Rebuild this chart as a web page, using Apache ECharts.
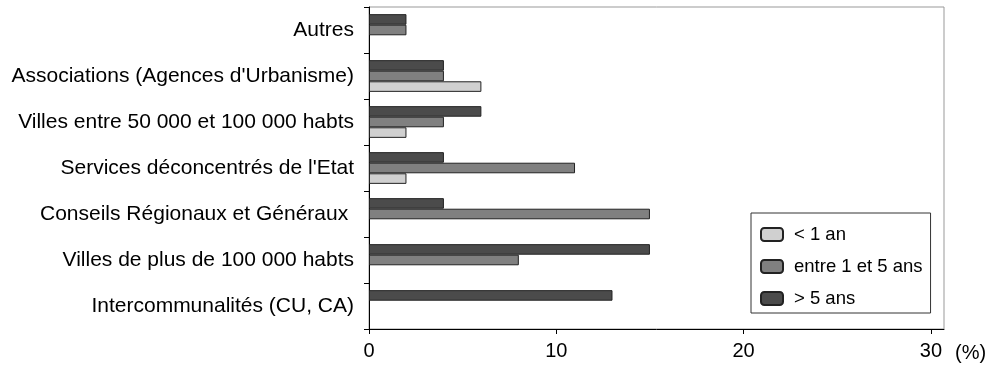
<!DOCTYPE html>
<html>
<head>
<meta charset="utf-8">
<script src="https://cdn.jsdelivr.net/npm/echarts@6/dist/echarts.min.js"></script>
<style>html,body{margin:0;padding:0;background:#fff}#c{width:996px;height:365px}</style>
</head>
<body>
<div id="c"></div>
<script>
// categories listed bottom to top
const categories = [
  "Intercommunalités (CU, CA)",
  "Villes de plus de 100 000 habts",
  "Conseils Régionaux et Généraux ",
  "Services déconcentrés de l'Etat",
  "Villes entre 50 000 et 100 000 habts",
  "Associations (Agences d'Urbanisme)",
  "Autres"
];
const seriesNames = ["< 1 an", "entre 1 et 5 ans", "> 5 ans"];
// null = no bar drawn in the reference
const lessThan1 = [null, null, null, 2, 2, 6, null];
const between1and5 = [null, 8, 15, 11, 4, 4, 2];
const moreThan5 = [13, 15, 4, 4, 6, 4, 2];
const xTicks = [0, 10, 20, 30];

const colors = ["#d0d0d0", "#808080", "#4b4b4b"];
const values = [lessThan1, between1and5, moreThan5];
const font = "'Liberation Sans', Arial, sans-serif";

// series drawn in reverse so "> 5 ans" sits at the top of each band
const order = [2, 1, 0];

const chart = echarts.init(document.getElementById('c'), null, {renderer: 'canvas'});
chart.setOption({
  animation: false,
  backgroundColor: '#fff',
  textStyle: {fontFamily: font},
  grid: {left: 369, right: 52, top: 7, bottom: 36, show: true, borderColor: '#999', borderWidth: 1},
  legend: {
    orient: 'vertical',
    left: 751, top: 213,
    data: seriesNames,
    itemWidth: 22, itemHeight: 13, itemGap: 13,
    padding: [12, 8, 5, 9],
    borderColor: '#333', borderWidth: 1,
    textStyle: {fontSize: 18.5, color: '#000', fontFamily: font, padding: [0, 0, 0, 6]}
  },
  xAxis: {
    type: 'value', min: 0, max: 30.7,
    name: '(%)', nameLocation: 'end', nameGap: 11,
    nameTextStyle: {fontSize: 20, color: '#000', verticalAlign: 'top', padding: [14, 0, 0, 0], fontFamily: font},
    axisLine: {show: true, lineStyle: {color: '#000', width: 1}},
    axisTick: {show: true, customValues: xTicks, length: 5, lineStyle: {color: '#000'}},
    axisLabel: {customValues: xTicks, fontSize: 20, color: '#000', margin: 12, fontFamily: font},
    splitLine: {show: false}
  },
  yAxis: {
    type: 'category', data: categories,
    axisLine: {show: true, lineStyle: {color: '#000', width: 1}},
    axisTick: {show: true, length: 5, lineStyle: {color: '#000'}},
    axisLabel: {fontSize: 21, color: '#000', margin: 15, fontFamily: font},
    splitLine: {show: false}
  },
  series: order.map(i => ({
    name: seriesNames[i], type: 'bar', data: values[i],
    barGap: '0%', barCategoryGap: '31%',
    itemStyle: {color: colors[i], borderColor: '#222', borderWidth: 1}
  }))
});
</script>
</body>
</html>
